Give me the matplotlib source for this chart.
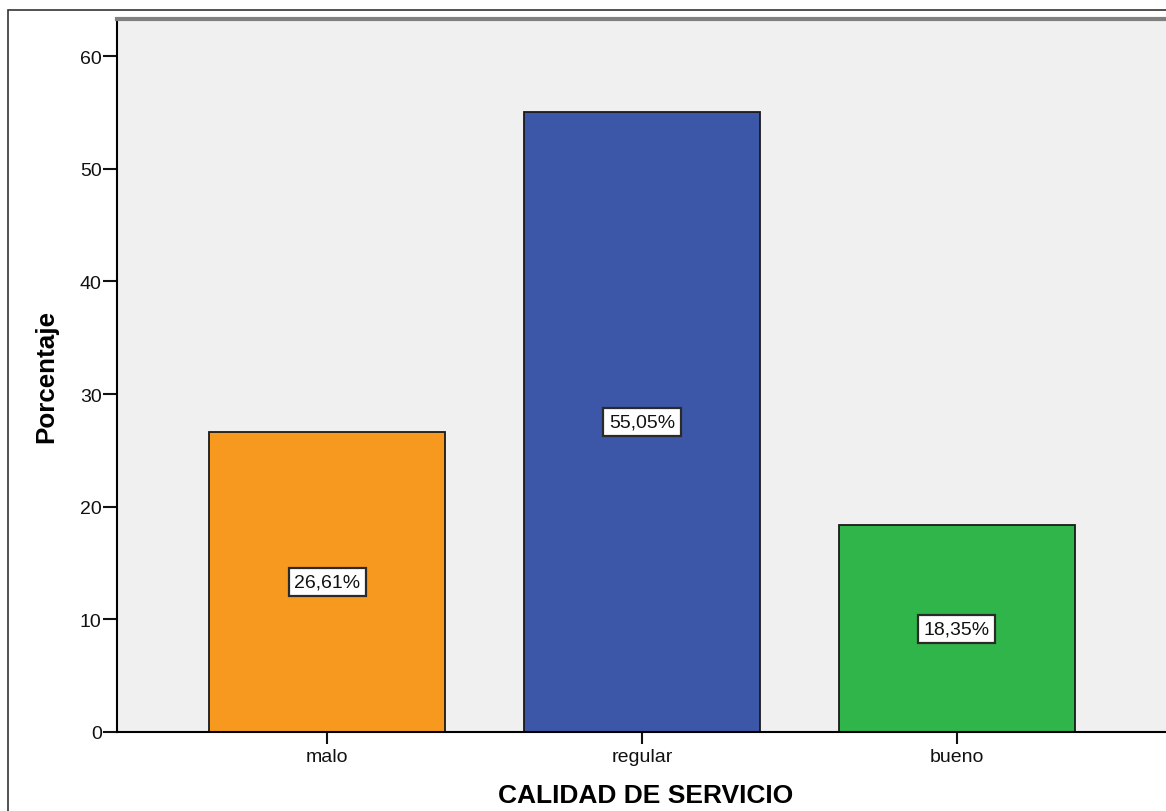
import matplotlib
matplotlib.use("Agg")
import matplotlib.pyplot as plt
from matplotlib.patches import Rectangle

# data
categories = ["malo", "regular", "bueno"]
percentages = [26.61, 55.05, 18.35]
bar_colors = ["#F7991F", "#3D57A8", "#30B54A"]
yticks = [0, 10, 20, 30, 40, 50, 60]

plt.rcParams['font.family'] = ['Liberation Sans', 'DejaVu Sans']

fig = plt.figure(figsize=(11.66, 8.12), dpi=100)
ax = fig.add_axes([117/1166, 79/812, 1050/1166, 713/812])
ax.set_facecolor("#F0F0F0")

xs = list(range(len(categories)))
bars = ax.bar(xs, percentages, width=0.752, color=bar_colors,
              edgecolor="#1a1a1a", linewidth=1.3, zorder=2)

for x, p in zip(xs, percentages):
    ax.text(x, p / 2, f"{p:.2f}%".replace(".", ","), ha="center", va="center",
            fontsize=14, color="#111111", zorder=3,
            bbox=dict(boxstyle="square,pad=0.28", fc="white", ec="#2a2a2a", lw=1.6))

ax.set_xlim(-0.667, 2.667)
ax.set_ylim(0, 63.3)
ax.set_yticks(yticks)
ax.set_xticks(xs)
ax.set_xticklabels(categories)

ax.tick_params(axis="y", length=10, width=1.5, labelsize=14, pad=1, colors="#111111")
ax.tick_params(axis="x", length=8.5, width=1.5, labelsize=14, pad=3, colors="#111111")

ax.spines["left"].set_linewidth(1.5)
ax.spines["bottom"].set_linewidth(1.5)
ax.spines["top"].set_color("#808080")
ax.spines["top"].set_linewidth(3)
ax.spines["right"].set_visible(False)

ax.set_ylabel("Porcentaje", fontsize=18.7, fontweight="bold")
ax.set_xlabel("CALIDAD DE SERVICIO", fontsize=19, fontweight="bold")
ax.yaxis.set_label_coords(-0.056, 0.5)
ax.xaxis.set_label_coords(0.503, -0.071)

# outer frame of the exported chart
fig.patches.append(Rectangle((8/1166, -0.05), 1.2, 1 - 11/812 + 0.05,
                             transform=fig.transFigure, fill=False,
                             edgecolor="#333333", linewidth=1.2, clip_on=False))

fig.savefig("out.png", dpi=100)
